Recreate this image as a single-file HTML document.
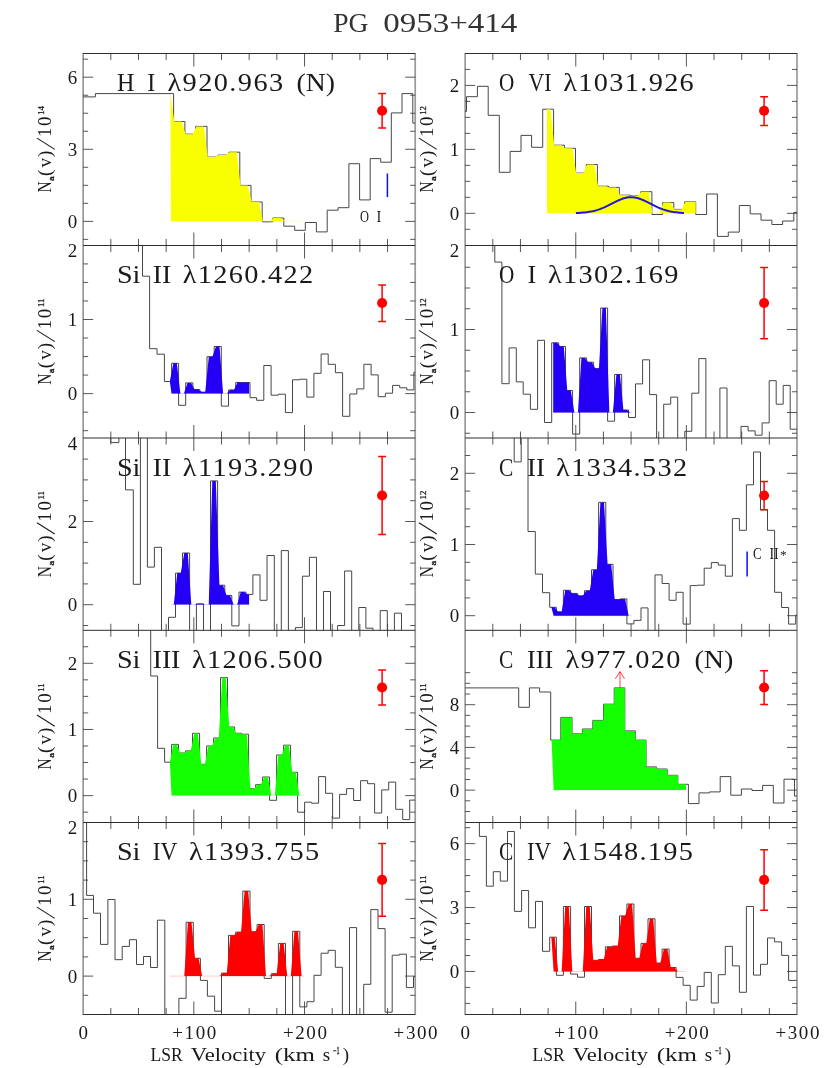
<!DOCTYPE html>
<html><head><meta charset="utf-8"><title>PG 0953+414</title>
<style>html,body{margin:0;padding:0;background:#fff}svg{display:block;will-change:transform}</style>
</head><body>
<svg width="830" height="1068" viewBox="0 0 830 1068">
<rect width="830" height="1068" fill="#fff"/>
<defs>
<clipPath id="c0"><rect x="83.15" y="53.5" width="332.05" height="192"/></clipPath>
<clipPath id="c1"><rect x="465.15" y="53.5" width="331.85" height="192"/></clipPath>
<clipPath id="c2"><rect x="83.15" y="245.5" width="332.05" height="192.5"/></clipPath>
<clipPath id="c3"><rect x="465.15" y="245.5" width="331.85" height="192.5"/></clipPath>
<clipPath id="c4"><rect x="83.15" y="438" width="332.05" height="192.3"/></clipPath>
<clipPath id="c5"><rect x="465.15" y="438" width="331.85" height="192.3"/></clipPath>
<clipPath id="c6"><rect x="83.15" y="630.3" width="332.05" height="192.2"/></clipPath>
<clipPath id="c7"><rect x="465.15" y="630.3" width="331.85" height="192.2"/></clipPath>
<clipPath id="c8"><rect x="83.15" y="822.5" width="332.05" height="192"/></clipPath>
<clipPath id="c9"><rect x="465.15" y="822.5" width="331.85" height="192"/></clipPath>
</defs>
<text x="333.2" y="32.4" font-family="Liberation Serif, serif" font-size="28" fill="#333" textLength="35.2" lengthAdjust="spacingAndGlyphs">PG</text>
<text transform="translate(383.3 32.4) scale(1.18 1)" font-family="Liberation Serif, serif" font-size="28" fill="#333" textLength="113.56" lengthAdjust="spacing">0953+414</text>
<line x1="83.15" y1="53" x2="83.15" y2="1015" stroke="#999999" stroke-width="1.7"/>
<line x1="415.2" y1="53" x2="415.2" y2="1015" stroke="#999999" stroke-width="1.7"/>
<line x1="465.15" y1="53" x2="465.15" y2="1015" stroke="#999999" stroke-width="1.7"/>
<line x1="797" y1="53" x2="797" y2="1015" stroke="#999999" stroke-width="1.7"/>
<g clip-path="url(#c0)">
<path d="M82.9 96.9H95.4V93.6H173.6V121.5H184.9V134.2H195.7V126.4H207V157.1H217.8V155.1H228.9V152.2H239.8V185.4H251V202H262.2V221.8H272.8V218H283.8V226.2H294.7V230.3H305.3V222.5H316.4V231.9H327.2V210.2H338.1V207.7H348.9V163.7H359.6V199.9H370.2V158.6H380.7V162.2H391.3V112.9H402V93.6H412.8V123.1H415.4" fill="none" stroke="#474747" stroke-width="1"/>
<line x1="170.9" y1="221.3" x2="304.5" y2="221.3" stroke="#faff00" stroke-width="0.8" opacity="0.25"/>
<polygon points="170.9,221.3 170.47,93.6 174.28,121.5 178.01,121.5 181.74,121.5 185.55,134.2 189.11,134.2 192.68,134.2 196.38,126.4 200.11,126.4 203.84,126.4 207.65,157.1 211.21,157.1 214.78,157.1 218.47,155.1 222.13,155.1 225.79,155.1 229.55,152.2 233.15,152.2 236.75,152.2 240.47,185.4 244.17,185.4 247.86,185.4 251.67,202 255.37,202 259.06,202 262.84,221.3 266.33,221.3 269.83,221.3 273.46,218 277.09,218 280.72,218 284.45,221.3 288.05,221.3 291.65,221.3 295.34,221.3 298.83,221.3 302.33,221.3 304.5,221.3 304.5,221.3" fill="#faff00"/>
</g>
<path d="M110.82 53.5v6.5M110.82 245.5v-6.5M138.49 53.5v6.5M138.49 245.5v-6.5M166.16 53.5v6.5M166.16 245.5v-6.5M193.83 53.5v13M193.83 245.5v-13M221.5 53.5v6.5M221.5 245.5v-6.5M249.17 53.5v6.5M249.17 245.5v-6.5M276.85 53.5v6.5M276.85 245.5v-6.5M304.52 53.5v13M304.52 245.5v-13M332.19 53.5v6.5M332.19 245.5v-6.5M359.86 53.5v6.5M359.86 245.5v-6.5M387.53 53.5v6.5M387.53 245.5v-6.5M83.15 59.18h5M415.2 59.18h-5M83.15 77.2h10M415.2 77.2h-10M83.15 95.22h5M415.2 95.22h-5M83.15 113.24h5M415.2 113.24h-5M83.15 131.26h5M415.2 131.26h-5M83.15 149.28h10M415.2 149.28h-10M83.15 167.3h5M415.2 167.3h-5M83.15 185.32h5M415.2 185.32h-5M83.15 203.34h5M415.2 203.34h-5M83.15 221.36h10M415.2 221.36h-10M83.15 239.38h5M415.2 239.38h-5" fill="none" stroke="#3a3a3a" stroke-width="0.85"/>
<text x="77.15" y="83.65" font-family="Liberation Serif, serif" font-size="19" fill="#1a1a1a" text-anchor="end">6</text>
<text x="77.15" y="155.75" font-family="Liberation Serif, serif" font-size="19" fill="#1a1a1a" text-anchor="end">3</text>
<text x="77.15" y="227.75" font-family="Liberation Serif, serif" font-size="19" fill="#1a1a1a" text-anchor="end">0</text>
<g transform="translate(51.25 192.4) rotate(-90)" font-family="Liberation Serif, serif" fill="#1a1a1a">
<text font-size="19"><tspan x="-0.2" y="0" textLength="11.2" lengthAdjust="spacingAndGlyphs">N</tspan><tspan x="11.5" y="2.9" font-size="7.5" textLength="4.7" lengthAdjust="spacingAndGlyphs" stroke="#1a1a1a" stroke-width="0.35">a</tspan><tspan x="16.4" y="0">(</tspan><tspan x="24.9" y="0">v</tspan><tspan x="35.4" y="0">)</tspan><tspan x="55.3" y="0">1</tspan><tspan x="66.5" y="0">0</tspan><tspan x="77.6" y="-7.3" font-size="8.8" stroke="#1a1a1a" stroke-width="0.3">14</tspan></text>
<line x1="43" y1="3.5" x2="54.3" y2="-14.3" stroke="#1a1a1a" stroke-width="1.1"/>
</g>
<text x="116.9" y="91.1" font-family="Liberation Serif, serif" font-size="25.3" fill="#1a1a1a" textLength="17.4" lengthAdjust="spacingAndGlyphs">H</text>
<text x="147.2" y="91.1" font-family="Liberation Serif, serif" font-size="25.3" fill="#1a1a1a" textLength="8" lengthAdjust="spacingAndGlyphs">I</text>
<text transform="translate(167.4 91.1) scale(1.12 1)" font-family="Liberation Serif, serif" font-size="25.3" fill="#1a1a1a" textLength="103.39" lengthAdjust="spacing">λ920.963</text>
<text x="296.5" y="91.1" font-family="Liberation Serif, serif" font-size="25.3" fill="#1a1a1a" textLength="38.5" lengthAdjust="spacingAndGlyphs">(N)</text>
<path d="M382.1 93.6V128M378.2 93.6h7.8M378.2 128h7.8" stroke="#ff0000" stroke-width="1.5" fill="none"/>
<circle cx="382.1" cy="110.8" r="5.05" fill="#ff0000"/>
<g clip-path="url(#c1)">
<path d="M464.9 111.5H466.5V96.7H477.4V86.3H488.2V115.3H499.3V172.3H510.1V151.4H521V135.4H531.6V147.3H542.7V109.2H553.6V145.2H564.4V148.3H575.5V173.1H586.3V164.5H597.4V186.2H608.5V187.4H619.3V195.2H630.4V196H640.8V191.7H651.9V214.5H662.7V202.6H673.8V209.4H684.6V201.8H695.7V214.5H706.6V194H717.4V236.4H728.3V232.1H739.3V205.5H750.2V213.9H761V220.2H771.9V224.5H782.6V221H793.8V212.4H797.6" fill="none" stroke="#474747" stroke-width="1"/>
<line x1="547" y1="213.3" x2="695.7" y2="213.3" stroke="#faff00" stroke-width="0.8" opacity="0.25"/>
<polygon points="547,213.3 547,109.2 550.55,109.2 554.25,145.2 557.81,145.2 561.38,145.2 565.07,148.3 568.73,148.3 572.39,148.3 576.15,173.1 579.71,173.1 583.28,173.1 586.97,164.5 590.63,164.5 594.29,164.5 598.07,186.2 601.73,186.2 605.39,186.2 609.15,187.4 612.71,187.4 616.28,187.4 619.97,195.2 623.63,195.2 627.29,195.2 631.02,196 634.46,196 637.89,196 641.47,191.7 645.13,191.7 648.79,191.7 652.55,213.3 656.11,213.3 659.68,213.3 663.37,202.6 667.03,202.6 670.69,202.6 674.45,209.4 678.01,209.4 681.58,209.4 685.27,201.8 688.93,201.8 692.59,201.8 695.7,201.8 695.7,213.3" fill="#faff00"/>
</g>
<path d="M492.8 53.5v6.5M492.8 245.5v-6.5M520.46 53.5v6.5M520.46 245.5v-6.5M548.11 53.5v6.5M548.11 245.5v-6.5M575.77 53.5v13M575.77 245.5v-13M603.42 53.5v6.5M603.42 245.5v-6.5M631.08 53.5v6.5M631.08 245.5v-6.5M658.73 53.5v6.5M658.73 245.5v-6.5M686.38 53.5v13M686.38 245.5v-13M714.04 53.5v6.5M714.04 245.5v-6.5M741.69 53.5v6.5M741.69 245.5v-6.5M769.35 53.5v6.5M769.35 245.5v-6.5M465.15 69.41h5M797 69.41h-5M465.15 85.4h10M797 85.4h-10M465.15 101.39h5M797 101.39h-5M465.15 117.38h5M797 117.38h-5M465.15 133.37h5M797 133.37h-5M465.15 149.36h10M797 149.36h-10M465.15 165.35h5M797 165.35h-5M465.15 181.34h5M797 181.34h-5M465.15 197.33h5M797 197.33h-5M465.15 213.32h10M797 213.32h-10M465.15 229.31h5M797 229.31h-5" fill="none" stroke="#3a3a3a" stroke-width="0.85"/>
<text x="459.15" y="91.85" font-family="Liberation Serif, serif" font-size="19" fill="#1a1a1a" text-anchor="end">2</text>
<text x="459.15" y="155.8" font-family="Liberation Serif, serif" font-size="19" fill="#1a1a1a" text-anchor="end">1</text>
<text x="459.15" y="219.75" font-family="Liberation Serif, serif" font-size="19" fill="#1a1a1a" text-anchor="end">0</text>
<g transform="translate(433.25 192.4) rotate(-90)" font-family="Liberation Serif, serif" fill="#1a1a1a">
<text font-size="19"><tspan x="-0.2" y="0" textLength="11.2" lengthAdjust="spacingAndGlyphs">N</tspan><tspan x="11.5" y="2.9" font-size="7.5" textLength="4.7" lengthAdjust="spacingAndGlyphs" stroke="#1a1a1a" stroke-width="0.35">a</tspan><tspan x="16.4" y="0">(</tspan><tspan x="24.9" y="0">v</tspan><tspan x="35.4" y="0">)</tspan><tspan x="55.3" y="0">1</tspan><tspan x="66.5" y="0">0</tspan><tspan x="77.6" y="-7.3" font-size="8.8" stroke="#1a1a1a" stroke-width="0.3">12</tspan></text>
<line x1="43" y1="3.5" x2="54.3" y2="-14.3" stroke="#1a1a1a" stroke-width="1.1"/>
</g>
<text x="498.9" y="91.1" font-family="Liberation Serif, serif" font-size="25.3" fill="#1a1a1a" textLength="15.3" lengthAdjust="spacingAndGlyphs">O</text>
<text x="528.6" y="91.1" font-family="Liberation Serif, serif" font-size="25.3" fill="#1a1a1a" textLength="22.9" lengthAdjust="spacingAndGlyphs">VI</text>
<text transform="translate(563.3 91.1) scale(1.12 1)" font-family="Liberation Serif, serif" font-size="25.3" fill="#1a1a1a" textLength="116.52" lengthAdjust="spacing">λ1031.926</text>
<path d="M764.1 96.7V125.6M760.2 96.7h7.8M760.2 125.6h7.8" stroke="#ff0000" stroke-width="1.5" fill="none"/>
<circle cx="764.1" cy="110.8" r="5.05" fill="#ff0000"/>
<g clip-path="url(#c2)">
<path d="M82.9 215.5H142.5V276.2H149.6V348.7H157V354.2H164.4V381.5H171.6V363.3H178.6V405.3H185.7V382.9H192.9V389.5H199.9V392.1H207V356.7H214.2V346.5H221.3V406.1H228.5V389.9H235.7V382.5H242.8V382.5H250V397.7H256.6V400.3H263.8V365.5H271.1V395.2H278.3V394.2H285.4V412.6H292.5V379.8H299.6V379.2H306.8V397.1H313.9V373.3H321.1V354H328.2V364.3H335.4V372.7H342.6V416.3H349.8V394H356.8V388.9H363.9V364.3H371.1V374.9H378.2V396.7H385.4V393.2H392.6V385.4H399.7V387.8H406.8V389.9H413.9V372.3H415.4" fill="none" stroke="#474747" stroke-width="1"/>
<line x1="171.5" y1="393.6" x2="249.1" y2="393.6" stroke="#2300f5" stroke-width="0.8" opacity="0.25"/>
<polygon points="171.5,393.6 169.8,381.5 173.35,363.3 176.85,363.3 180.38,393.6 183.92,393.6 187.5,382.9 191.1,382.9 194.65,389.5 198.15,389.5 201.68,392.1 205.22,392.1 208.8,356.7 212.4,356.7 215.97,346.5 219.53,346.5 223.1,393.6 226.7,393.6 230.3,389.9 233.9,389.9 237.47,382.5 241.03,382.5 244.6,382.5 248.2,382.5 249.1,382.5 249.1,393.6" fill="#2300f5"/>
</g>
<path d="M110.82 245.5v6.5M110.82 438v-6.5M138.49 245.5v6.5M138.49 438v-6.5M166.16 245.5v6.5M166.16 438v-6.5M193.83 245.5v13M193.83 438v-13M221.5 245.5v6.5M221.5 438v-6.5M249.17 245.5v6.5M249.17 438v-6.5M276.85 245.5v6.5M276.85 438v-6.5M304.52 245.5v13M304.52 438v-13M332.19 245.5v6.5M332.19 438v-6.5M359.86 245.5v6.5M359.86 438v-6.5M387.53 245.5v6.5M387.53 438v-6.5M83.15 263.91h5M415.2 263.91h-5M83.15 282.44h5M415.2 282.44h-5M83.15 300.97h5M415.2 300.97h-5M83.15 319.5h10M415.2 319.5h-10M83.15 338.03h5M415.2 338.03h-5M83.15 356.56h5M415.2 356.56h-5M83.15 375.09h5M415.2 375.09h-5M83.15 393.62h10M415.2 393.62h-10M83.15 412.15h5M415.2 412.15h-5M83.15 430.68h5M415.2 430.68h-5" fill="none" stroke="#3a3a3a" stroke-width="0.85"/>
<text x="77.15" y="325.95" font-family="Liberation Serif, serif" font-size="19" fill="#1a1a1a" text-anchor="end">1</text>
<text x="77.15" y="400.05" font-family="Liberation Serif, serif" font-size="19" fill="#1a1a1a" text-anchor="end">0</text>
<text x="77.15" y="257.1" font-family="Liberation Serif, serif" font-size="19" fill="#1a1a1a" text-anchor="end">2</text>
<g transform="translate(51.25 384.65) rotate(-90)" font-family="Liberation Serif, serif" fill="#1a1a1a">
<text font-size="19"><tspan x="-0.2" y="0" textLength="11.2" lengthAdjust="spacingAndGlyphs">N</tspan><tspan x="11.5" y="2.9" font-size="7.5" textLength="4.7" lengthAdjust="spacingAndGlyphs" stroke="#1a1a1a" stroke-width="0.35">a</tspan><tspan x="16.4" y="0">(</tspan><tspan x="24.9" y="0">v</tspan><tspan x="35.4" y="0">)</tspan><tspan x="55.3" y="0">1</tspan><tspan x="66.5" y="0">0</tspan><tspan x="77.6" y="-7.3" font-size="8.8" stroke="#1a1a1a" stroke-width="0.3">11</tspan></text>
<line x1="43" y1="3.5" x2="54.3" y2="-14.3" stroke="#1a1a1a" stroke-width="1.1"/>
</g>
<text x="116.9" y="283.3" font-family="Liberation Serif, serif" font-size="25.3" fill="#1a1a1a" textLength="23.5" lengthAdjust="spacingAndGlyphs">Si</text>
<text x="152.7" y="283.3" font-family="Liberation Serif, serif" font-size="25.3" fill="#1a1a1a" textLength="18.4" lengthAdjust="spacingAndGlyphs">II</text>
<text transform="translate(182.8 283.3) scale(1.12 1)" font-family="Liberation Serif, serif" font-size="25.3" fill="#1a1a1a" textLength="116.34" lengthAdjust="spacing">λ1260.422</text>
<path d="M382.1 285V321.5M378.2 285h7.8M378.2 321.5h7.8" stroke="#ff0000" stroke-width="1.5" fill="none"/>
<circle cx="382.1" cy="303" r="5.05" fill="#ff0000"/>
<g clip-path="url(#c3)">
<path d="M464.9 215.5H494.8V262.1H501.9V383.7H509.1V347.9H516.3V381.9H523.2V394.2H530.4V409.3H537.6V340.3H544.5V422.5H551.7V342.8H558.7V346.5H565.5V390.5H572.6V434.1H579.7V357.9H586.6V362.2H593.6V368.6H600.7V308H607.6V421.2H614.6V374.5H621.7V410H628.5V417.5H635.5V383.9H642.6V359.8H649.6V394.6H656.6V468H663.7V404.2H670.7V397.1H677.7V468H684.8V431.3H691.8V393.2H698.8V358.6H705.9V468H719.9V388H727V468H741V426.4H748.1V430.9H755.1V435.2H762.1V422.9H769.2V380.7H776.2V404.2H783.2V385.4H790.2V429.2H797.3V433.5H797.6" fill="none" stroke="#474747" stroke-width="1"/>
<line x1="553.2" y1="412.4" x2="631" y2="412.4" stroke="#2300f5" stroke-width="0.8" opacity="0.25"/>
<polygon points="553.2,412.4 553.2,342.8 553.45,342.8 556.95,342.8 560.4,346.5 563.8,346.5 567.27,390.5 570.83,390.5 574.38,412.4 577.93,412.4 581.43,357.9 584.88,357.9 588.35,362.2 591.85,362.2 595.38,368.6 598.93,368.6 602.43,308 605.88,308 609.35,412.4 612.85,412.4 616.38,374.5 619.93,374.5 623.4,410 626.8,410 630.25,412.4 631,412.4 631,412.4" fill="#2300f5"/>
</g>
<path d="M492.8 245.5v6.5M492.8 438v-6.5M520.46 245.5v6.5M520.46 438v-6.5M548.11 245.5v6.5M548.11 438v-6.5M575.77 245.5v13M575.77 438v-13M603.42 245.5v6.5M603.42 438v-6.5M631.08 245.5v6.5M631.08 438v-6.5M658.73 245.5v6.5M658.73 438v-6.5M686.38 245.5v13M686.38 438v-13M714.04 245.5v6.5M714.04 438v-6.5M741.69 245.5v6.5M741.69 438v-6.5M769.35 245.5v6.5M769.35 438v-6.5M465.15 267.25h5M797 267.25h-5M465.15 288h5M797 288h-5M465.15 308.75h5M797 308.75h-5M465.15 329.5h10M797 329.5h-10M465.15 350.25h5M797 350.25h-5M465.15 371h5M797 371h-5M465.15 391.75h5M797 391.75h-5M465.15 412.5h10M797 412.5h-10M465.15 433.25h5M797 433.25h-5" fill="none" stroke="#3a3a3a" stroke-width="0.85"/>
<text x="459.15" y="335.95" font-family="Liberation Serif, serif" font-size="19" fill="#1a1a1a" text-anchor="end">1</text>
<text x="459.15" y="418.85" font-family="Liberation Serif, serif" font-size="19" fill="#1a1a1a" text-anchor="end">0</text>
<text x="459.15" y="257.1" font-family="Liberation Serif, serif" font-size="19" fill="#1a1a1a" text-anchor="end">2</text>
<g transform="translate(433.25 384.65) rotate(-90)" font-family="Liberation Serif, serif" fill="#1a1a1a">
<text font-size="19"><tspan x="-0.2" y="0" textLength="11.2" lengthAdjust="spacingAndGlyphs">N</tspan><tspan x="11.5" y="2.9" font-size="7.5" textLength="4.7" lengthAdjust="spacingAndGlyphs" stroke="#1a1a1a" stroke-width="0.35">a</tspan><tspan x="16.4" y="0">(</tspan><tspan x="24.9" y="0">v</tspan><tspan x="35.4" y="0">)</tspan><tspan x="55.3" y="0">1</tspan><tspan x="66.5" y="0">0</tspan><tspan x="77.6" y="-7.3" font-size="8.8" stroke="#1a1a1a" stroke-width="0.3">12</tspan></text>
<line x1="43" y1="3.5" x2="54.3" y2="-14.3" stroke="#1a1a1a" stroke-width="1.1"/>
</g>
<text x="498.9" y="283.3" font-family="Liberation Serif, serif" font-size="25.3" fill="#1a1a1a" textLength="15.3" lengthAdjust="spacingAndGlyphs">O</text>
<text x="527.6" y="283.3" font-family="Liberation Serif, serif" font-size="25.3" fill="#1a1a1a" textLength="8.7" lengthAdjust="spacingAndGlyphs">I</text>
<text transform="translate(548 283.3) scale(1.12 1)" font-family="Liberation Serif, serif" font-size="25.3" fill="#1a1a1a" textLength="116.52" lengthAdjust="spacing">λ1302.169</text>
<path d="M764.1 267.6V338.7M760.2 267.6h7.8M760.2 338.7h7.8" stroke="#ff0000" stroke-width="1.5" fill="none"/>
<circle cx="764.1" cy="303" r="5.05" fill="#ff0000"/>
<g clip-path="url(#c4)">
<path d="M82.9 408H110.7V442.6H118.9V408H125.5V489.9H133.3V584.3H140.4V408H147.4V567.1H154.4V547.3H161.5V660.3H168.5V617.3H175.5V573.1H182.5V553H189.6V660.3H196.4V603.8H203.5V660.3H210.5V480.9H217.6V585.2H224.8V595.4H231.8V625.9H239V592.1H245.9V594.4H252.9V574.9H260V600.3H267V555.5H274.3V660.3H281.3V550.6H288.4V660.3H295.4V627.6H302.4V576.2H309.4V557.3H316.5V660.3H323.5V591.5H330.5V660.3H337.6V625.5H344.6V571H351.7V660.3H358.8V607.5H365.9V628.2H373V660.3H380.2V610.6H387.3V660.3H394.4V613.2H401.5V660.3H415.4" fill="none" stroke="#474747" stroke-width="1"/>
<line x1="171.5" y1="604.6" x2="249.1" y2="604.6" stroke="#2300f5" stroke-width="0.8" opacity="0.25"/>
<polygon points="171.5,604.6 170.25,604.6 173.75,604.6 177.25,573.1 180.75,573.1 184.28,553 187.82,553 191.3,604.6 194.7,604.6 198.18,603.8 201.72,603.8 205.25,604.6 208.75,604.6 212.28,480.9 215.82,480.9 219.4,585.2 223,585.2 226.55,595.4 230.05,595.4 233.6,604.6 237.2,604.6 240.72,592.1 244.18,592.1 247.65,594.4 249.1,594.4 249.1,604.6" fill="#2300f5"/>
</g>
<path d="M110.82 438v6.5M110.82 630.3v-6.5M138.49 438v6.5M138.49 630.3v-6.5M166.16 438v6.5M166.16 630.3v-6.5M193.83 438v13M193.83 630.3v-13M221.5 438v6.5M221.5 630.3v-6.5M249.17 438v6.5M249.17 630.3v-6.5M276.85 438v6.5M276.85 630.3v-6.5M304.52 438v13M304.52 630.3v-13M332.19 438v6.5M332.19 630.3v-6.5M359.86 438v6.5M359.86 630.3v-6.5M387.53 438v6.5M387.53 630.3v-6.5M83.15 459.1h5M415.2 459.1h-5M83.15 479.9h5M415.2 479.9h-5M83.15 500.7h5M415.2 500.7h-5M83.15 521.5h10M415.2 521.5h-10M83.15 542.3h5M415.2 542.3h-5M83.15 563.1h5M415.2 563.1h-5M83.15 583.9h5M415.2 583.9h-5M83.15 604.7h10M415.2 604.7h-10M83.15 625.5h5M415.2 625.5h-5" fill="none" stroke="#3a3a3a" stroke-width="0.85"/>
<text x="77.15" y="527.95" font-family="Liberation Serif, serif" font-size="19" fill="#1a1a1a" text-anchor="end">2</text>
<text x="77.15" y="611.05" font-family="Liberation Serif, serif" font-size="19" fill="#1a1a1a" text-anchor="end">0</text>
<text x="77.15" y="449.6" font-family="Liberation Serif, serif" font-size="19" fill="#1a1a1a" text-anchor="end">4</text>
<g transform="translate(51.25 577.05) rotate(-90)" font-family="Liberation Serif, serif" fill="#1a1a1a">
<text font-size="19"><tspan x="-0.2" y="0" textLength="11.2" lengthAdjust="spacingAndGlyphs">N</tspan><tspan x="11.5" y="2.9" font-size="7.5" textLength="4.7" lengthAdjust="spacingAndGlyphs" stroke="#1a1a1a" stroke-width="0.35">a</tspan><tspan x="16.4" y="0">(</tspan><tspan x="24.9" y="0">v</tspan><tspan x="35.4" y="0">)</tspan><tspan x="55.3" y="0">1</tspan><tspan x="66.5" y="0">0</tspan><tspan x="77.6" y="-7.3" font-size="8.8" stroke="#1a1a1a" stroke-width="0.3">11</tspan></text>
<line x1="43" y1="3.5" x2="54.3" y2="-14.3" stroke="#1a1a1a" stroke-width="1.1"/>
</g>
<text x="116.9" y="475.5" font-family="Liberation Serif, serif" font-size="25.3" fill="#1a1a1a" textLength="23.5" lengthAdjust="spacingAndGlyphs">Si</text>
<text x="152.7" y="475.5" font-family="Liberation Serif, serif" font-size="25.3" fill="#1a1a1a" textLength="18.4" lengthAdjust="spacingAndGlyphs">II</text>
<text transform="translate(182.8 475.5) scale(1.12 1)" font-family="Liberation Serif, serif" font-size="25.3" fill="#1a1a1a" textLength="116.34" lengthAdjust="spacing">λ1193.290</text>
<path d="M382.1 456.5V534.4M378.2 456.5h7.8M378.2 534.4h7.8" stroke="#ff0000" stroke-width="1.5" fill="none"/>
<circle cx="382.1" cy="495.5" r="5.05" fill="#ff0000"/>
<g clip-path="url(#c5)">
<path d="M464.9 408H514.2V461.9H521.2V408H528V531.5H535.3V574.1H542.5V592.7H549.7V607.3H556.4V611.8H563.4V590.3H570.6V593.4H577.7V595.8H584.5V590.7H591.5V569.8H598.6V502.4H605.8V564.3H613V599.5H619.9V598.9H626.9V623.9H633.9V620.4H641V607.9H648V660.3H655V574.9H662.1V583.5H669.1V600.3H676.1V592.3H683.1V624.1H690.2V585.6H697.2V585.2H704.2V568.2H711.3V562.6H718.3V565.1H725.3V576.2H732.4V518.6H739.4V530.3H746.4V484.8H753.5V452H760.5V509.8H767.5V530.3H774.6V592.3H781.6V607.5H788.6V624.1H795.7V615.3H797.6" fill="none" stroke="#474747" stroke-width="1"/>
<line x1="553.6" y1="615.7" x2="631.3" y2="615.7" stroke="#2300f5" stroke-width="0.8" opacity="0.25"/>
<polygon points="553.6,615.7 551.38,607.3 554.73,607.3 558.15,611.8 561.65,611.8 565.2,590.3 568.8,590.3 572.38,593.4 575.93,593.4 579.4,595.8 582.8,595.8 586.25,590.7 589.75,590.7 593.27,569.8 596.83,569.8 600.4,502.4 604,502.4 607.6,564.3 611.2,564.3 614.73,599.5 618.17,599.5 621.65,598.9 625.15,598.9 628.65,615.7 631.3,615.7 631.3,615.7" fill="#2300f5"/>
</g>
<path d="M492.8 438v6.5M492.8 630.3v-6.5M520.46 438v6.5M520.46 630.3v-6.5M548.11 438v6.5M548.11 630.3v-6.5M575.77 438v13M575.77 630.3v-13M603.42 438v6.5M603.42 630.3v-6.5M631.08 438v6.5M631.08 630.3v-6.5M658.73 438v6.5M658.73 630.3v-6.5M686.38 438v13M686.38 630.3v-13M714.04 438v6.5M714.04 630.3v-6.5M741.69 438v6.5M741.69 630.3v-6.5M769.35 438v6.5M769.35 630.3v-6.5M465.15 455.5h5M797 455.5h-5M465.15 473.3h10M797 473.3h-10M465.15 491.1h5M797 491.1h-5M465.15 508.9h5M797 508.9h-5M465.15 526.7h5M797 526.7h-5M465.15 544.5h10M797 544.5h-10M465.15 562.3h5M797 562.3h-5M465.15 580.1h5M797 580.1h-5M465.15 597.9h5M797 597.9h-5M465.15 615.7h10M797 615.7h-10" fill="none" stroke="#3a3a3a" stroke-width="0.85"/>
<text x="459.15" y="479.75" font-family="Liberation Serif, serif" font-size="19" fill="#1a1a1a" text-anchor="end">2</text>
<text x="459.15" y="551.05" font-family="Liberation Serif, serif" font-size="19" fill="#1a1a1a" text-anchor="end">1</text>
<text x="459.15" y="622.15" font-family="Liberation Serif, serif" font-size="19" fill="#1a1a1a" text-anchor="end">0</text>
<g transform="translate(433.25 577.05) rotate(-90)" font-family="Liberation Serif, serif" fill="#1a1a1a">
<text font-size="19"><tspan x="-0.2" y="0" textLength="11.2" lengthAdjust="spacingAndGlyphs">N</tspan><tspan x="11.5" y="2.9" font-size="7.5" textLength="4.7" lengthAdjust="spacingAndGlyphs" stroke="#1a1a1a" stroke-width="0.35">a</tspan><tspan x="16.4" y="0">(</tspan><tspan x="24.9" y="0">v</tspan><tspan x="35.4" y="0">)</tspan><tspan x="55.3" y="0">1</tspan><tspan x="66.5" y="0">0</tspan><tspan x="77.6" y="-7.3" font-size="8.8" stroke="#1a1a1a" stroke-width="0.3">12</tspan></text>
<line x1="43" y1="3.5" x2="54.3" y2="-14.3" stroke="#1a1a1a" stroke-width="1.1"/>
</g>
<text x="498.9" y="475.5" font-family="Liberation Serif, serif" font-size="25.3" fill="#1a1a1a" textLength="14.3" lengthAdjust="spacingAndGlyphs">C</text>
<text x="527" y="475.5" font-family="Liberation Serif, serif" font-size="25.3" fill="#1a1a1a" textLength="17.9" lengthAdjust="spacingAndGlyphs">II</text>
<text transform="translate(556.1 475.5) scale(1.12 1)" font-family="Liberation Serif, serif" font-size="25.3" fill="#1a1a1a" textLength="117.14" lengthAdjust="spacing">λ1334.532</text>
<path d="M764.1 481.5V509.8M760.2 481.5h7.8M760.2 509.8h7.8" stroke="#ff0000" stroke-width="1.5" fill="none"/>
<circle cx="764.1" cy="495.5" r="5.05" fill="#ff0000"/>
<g clip-path="url(#c6)">
<path d="M82.9 600.3H150.7V676H157.6V748.3H164.6V762.2H171.6V744.4H178.5V753H185.5V750.9H192.5V733.3H199.6V764.3H206.6V746H213.6V738H220.5V677.6H227.5V727H234.7V733.3H241.6V734.2H248.6V788.8H255.6V784.7H262.6V777H269.6V800.3H276.6V755H283.6V745.2H290.6V772.3H297.6V812.2H304.6V802.2H311.6V803.2H318.6V776.6H325.6V793.3H332.6V818.1H339.6V794.4H346.6V788.6H353.6V800.5H360.6V780.7H367.6V783.7H374.6V813H381.7V789.9H388.7V782.1H395.7V809.3H402.7V819.6H409.7V800.1H415.4" fill="none" stroke="#474747" stroke-width="1"/>
<line x1="171.5" y1="795.6" x2="304.4" y2="795.6" stroke="#14ff00" stroke-width="0.8" opacity="0.25"/>
<polygon points="171.5,795.6 169.85,762.2 173.32,744.4 176.78,744.4 180.25,753 183.75,753 187.25,750.9 190.75,750.9 194.28,733.3 197.82,733.3 201.35,764.3 204.85,764.3 208.35,746 211.85,746 215.32,738 218.78,738 222.25,677.6 225.75,677.6 229.3,727 232.9,727 236.42,733.3 239.88,733.3 243.35,734.2 246.85,734.2 250.35,788.8 253.85,788.8 257.35,784.7 260.85,784.7 264.35,777 267.85,777 271.35,795.6 274.85,795.6 278.35,755 281.85,755 285.35,745.2 288.85,745.2 292.35,772.3 295.85,772.3 299.35,795.6 302.85,795.6 304.4,795.6 304.4,795.6" fill="#14ff00"/>
</g>
<path d="M110.82 630.3v6.5M110.82 822.5v-6.5M138.49 630.3v6.5M138.49 822.5v-6.5M166.16 630.3v6.5M166.16 822.5v-6.5M193.83 630.3v13M193.83 822.5v-13M221.5 630.3v6.5M221.5 822.5v-6.5M249.17 630.3v6.5M249.17 822.5v-6.5M276.85 630.3v6.5M276.85 822.5v-6.5M304.52 630.3v13M304.52 822.5v-13M332.19 630.3v6.5M332.19 822.5v-6.5M359.86 630.3v6.5M359.86 822.5v-6.5M387.53 630.3v6.5M387.53 822.5v-6.5M83.15 646.76h5M415.2 646.76h-5M83.15 663.3h10M415.2 663.3h-10M83.15 679.84h5M415.2 679.84h-5M83.15 696.38h5M415.2 696.38h-5M83.15 712.92h5M415.2 712.92h-5M83.15 729.46h10M415.2 729.46h-10M83.15 746h5M415.2 746h-5M83.15 762.54h5M415.2 762.54h-5M83.15 779.08h5M415.2 779.08h-5M83.15 795.62h10M415.2 795.62h-10M83.15 812.16h5M415.2 812.16h-5" fill="none" stroke="#3a3a3a" stroke-width="0.85"/>
<text x="77.15" y="669.75" font-family="Liberation Serif, serif" font-size="19" fill="#1a1a1a" text-anchor="end">2</text>
<text x="77.15" y="735.9" font-family="Liberation Serif, serif" font-size="19" fill="#1a1a1a" text-anchor="end">1</text>
<text x="77.15" y="802.05" font-family="Liberation Serif, serif" font-size="19" fill="#1a1a1a" text-anchor="end">0</text>
<g transform="translate(51.25 769.3) rotate(-90)" font-family="Liberation Serif, serif" fill="#1a1a1a">
<text font-size="19"><tspan x="-0.2" y="0" textLength="11.2" lengthAdjust="spacingAndGlyphs">N</tspan><tspan x="11.5" y="2.9" font-size="7.5" textLength="4.7" lengthAdjust="spacingAndGlyphs" stroke="#1a1a1a" stroke-width="0.35">a</tspan><tspan x="16.4" y="0">(</tspan><tspan x="24.9" y="0">v</tspan><tspan x="35.4" y="0">)</tspan><tspan x="55.3" y="0">1</tspan><tspan x="66.5" y="0">0</tspan><tspan x="77.6" y="-7.3" font-size="8.8" stroke="#1a1a1a" stroke-width="0.3">11</tspan></text>
<line x1="43" y1="3.5" x2="54.3" y2="-14.3" stroke="#1a1a1a" stroke-width="1.1"/>
</g>
<text x="116.9" y="667.7" font-family="Liberation Serif, serif" font-size="25.3" fill="#1a1a1a" textLength="23.5" lengthAdjust="spacingAndGlyphs">Si</text>
<text x="152.7" y="667.7" font-family="Liberation Serif, serif" font-size="25.3" fill="#1a1a1a" textLength="27.6" lengthAdjust="spacingAndGlyphs">III</text>
<text transform="translate(192 667.7) scale(1.12 1)" font-family="Liberation Serif, serif" font-size="25.3" fill="#1a1a1a" textLength="116.7" lengthAdjust="spacing">λ1206.500</text>
<path d="M382.1 670V705.1M378.2 670h7.8M378.2 705.1h7.8" stroke="#ff0000" stroke-width="1.5" fill="none"/>
<circle cx="382.1" cy="687.5" r="5.05" fill="#ff0000"/>
<g clip-path="url(#c7)">
<path d="M464.9 687.9H518.7V707.3H529.4V687.9H539.6V692H550.7V740.1H560.8V717.4H572V733.9H582.4V729H592.8V720.4H603.5V704.2H614.2V687.9H624.8V730.9H635.4V740.1H646V766.9H656.6V769H667.2V775.3H677.8V784.3H688.4V803.6H699V792.9H709.6V791.9H720.2V776.6H730.8V795.2H741.4V789H752V790.5H762.6V785.4H773.3V803H784V779.2H794.5V796H797.6" fill="none" stroke="#474747" stroke-width="1"/>
<line x1="553.6" y1="790.1" x2="686" y2="790.1" stroke="#14ff00" stroke-width="0.8" opacity="0.25"/>
<polygon points="553.6,790.1 551.6,740.1 560.7,740.1 561.14,717.4 571.89,717.4 572.31,733.9 582.3,733.9 582.71,729 592.7,729 593.12,720.4 603.39,720.4 603.82,704.2 614.09,704.2 614.52,687.9 624.69,687.9 625.12,730.9 635.29,730.9 635.72,740.1 645.89,740.1 646.32,766.9 656.49,766.9 656.92,769 667.09,769 667.52,775.3 677.69,775.3 678.12,784.3 686,784.3 686,790.1" fill="#14ff00"/>
</g>
<path d="M492.8 630.3v6.5M492.8 822.5v-6.5M520.46 630.3v6.5M520.46 822.5v-6.5M548.11 630.3v6.5M548.11 822.5v-6.5M575.77 630.3v13M575.77 822.5v-13M603.42 630.3v6.5M603.42 822.5v-6.5M631.08 630.3v6.5M631.08 822.5v-6.5M658.73 630.3v6.5M658.73 822.5v-6.5M686.38 630.3v13M686.38 822.5v-13M714.04 630.3v6.5M714.04 822.5v-6.5M741.69 630.3v6.5M741.69 822.5v-6.5M769.35 630.3v6.5M769.35 822.5v-6.5M465.15 672.66h5M797 672.66h-5M465.15 683.34h5M797 683.34h-5M465.15 694.02h5M797 694.02h-5M465.15 704.7h10M797 704.7h-10M465.15 715.38h5M797 715.38h-5M465.15 726.06h5M797 726.06h-5M465.15 736.74h5M797 736.74h-5M465.15 747.42h10M797 747.42h-10M465.15 758.1h5M797 758.1h-5M465.15 768.78h5M797 768.78h-5M465.15 779.46h5M797 779.46h-5M465.15 790.14h10M797 790.14h-10M465.15 800.82h5M797 800.82h-5M465.15 811.5h5M797 811.5h-5" fill="none" stroke="#3a3a3a" stroke-width="0.85"/>
<text x="459.15" y="711.15" font-family="Liberation Serif, serif" font-size="19" fill="#1a1a1a" text-anchor="end">8</text>
<text x="459.15" y="753.85" font-family="Liberation Serif, serif" font-size="19" fill="#1a1a1a" text-anchor="end">4</text>
<text x="459.15" y="796.55" font-family="Liberation Serif, serif" font-size="19" fill="#1a1a1a" text-anchor="end">0</text>
<g transform="translate(433.25 769.3) rotate(-90)" font-family="Liberation Serif, serif" fill="#1a1a1a">
<text font-size="19"><tspan x="-0.2" y="0" textLength="11.2" lengthAdjust="spacingAndGlyphs">N</tspan><tspan x="11.5" y="2.9" font-size="7.5" textLength="4.7" lengthAdjust="spacingAndGlyphs" stroke="#1a1a1a" stroke-width="0.35">a</tspan><tspan x="16.4" y="0">(</tspan><tspan x="24.9" y="0">v</tspan><tspan x="35.4" y="0">)</tspan><tspan x="55.3" y="0">1</tspan><tspan x="66.5" y="0">0</tspan><tspan x="77.6" y="-7.3" font-size="8.8" stroke="#1a1a1a" stroke-width="0.3">11</tspan></text>
<line x1="43" y1="3.5" x2="54.3" y2="-14.3" stroke="#1a1a1a" stroke-width="1.1"/>
</g>
<text x="498.9" y="667.7" font-family="Liberation Serif, serif" font-size="25.3" fill="#1a1a1a" textLength="14.3" lengthAdjust="spacingAndGlyphs">C</text>
<text x="527" y="667.7" font-family="Liberation Serif, serif" font-size="25.3" fill="#1a1a1a" textLength="26.1" lengthAdjust="spacingAndGlyphs">III</text>
<text transform="translate(565.4 667.7) scale(1.12 1)" font-family="Liberation Serif, serif" font-size="25.3" fill="#1a1a1a" textLength="102.77" lengthAdjust="spacing">λ977.020</text>
<text x="694.5" y="667.7" font-family="Liberation Serif, serif" font-size="25.3" fill="#1a1a1a" textLength="38.9" lengthAdjust="spacingAndGlyphs">(N)</text>
<path d="M764.1 670.7V704.5M760.2 670.7h7.8M760.2 704.5h7.8" stroke="#ff0000" stroke-width="1.5" fill="none"/>
<circle cx="764.1" cy="687.5" r="5.05" fill="#ff0000"/>
<g clip-path="url(#c8)">
<path d="M82.9 792.5H86.6V895.4H93.5V913.2H100.5V944.4H107.9V899.5H115V959.7H122.2V946.4H129.4V939.7H136.5V964.5H143.5V956.5H150.5V967.5H157.4V920.2H164.8V1044.5H178.9V998.3H186.1V922.3H193.3V958.3H200.4V980.4H207.4V996.2H214.6V1011.2H221.5V973.1H228.5V935.4H235.7V932.1H242.8V891.1H250V931.7H257.1V924.5H264.2V978.4H271.3V973.7H278.4V943.4H285.5V1044.5H292.6V931.3H299.8V1006.9H306.9V1001.7H314V975.3H321.1V953.2H328.2V950.3H335.3V967.3H342.4V1044.5H349.5V927.6H356.6V1044.5H363.7V984.3H370.8V909.6H378V928.6H385.1V1012.2H392.2V955.2H399.3V954.2H406.4V987.6H413.5V976.7H415.4" fill="none" stroke="#474747" stroke-width="1"/>
<line x1="170.1" y1="976.1" x2="304.3" y2="976.1" stroke="#ff0000" stroke-width="0.8" opacity="0.25"/>
<polygon points="170.1,976.1 170.09,976.1 173.61,976.1 177.14,976.1 180.7,976.1 184.3,976.1 187.9,922.3 191.5,922.3 195.08,958.3 198.62,958.3 202.15,976.1 205.65,976.1 209.2,976.1 212.8,976.1 216.32,976.1 219.78,976.1 223.25,973.1 226.75,973.1 230.3,935.4 233.9,935.4 237.47,932.1 241.03,932.1 244.6,891.1 248.2,891.1 251.78,931.7 255.33,931.7 258.88,924.5 262.43,924.5 265.98,976.1 269.52,976.1 273.07,973.7 276.62,973.7 280.17,943.4 283.73,943.4 287.27,976.1 290.83,976.1 294.4,931.3 298,931.3 301.57,976.1 304.3,976.1 304.3,976.1" fill="#ff0000"/>
</g>
<path d="M110.82 822.5v6.5M110.82 1014.5v-6.5M138.49 822.5v6.5M138.49 1014.5v-6.5M166.16 822.5v6.5M166.16 1014.5v-6.5M193.83 822.5v13M193.83 1014.5v-13M221.5 822.5v6.5M221.5 1014.5v-6.5M249.17 822.5v6.5M249.17 1014.5v-6.5M276.85 822.5v6.5M276.85 1014.5v-6.5M304.52 822.5v13M304.52 1014.5v-13M332.19 822.5v6.5M332.19 1014.5v-6.5M359.86 822.5v6.5M359.86 1014.5v-6.5M387.53 822.5v6.5M387.53 1014.5v-6.5M83.15 841.7h5M415.2 841.7h-5M83.15 860.9h5M415.2 860.9h-5M83.15 880.1h5M415.2 880.1h-5M83.15 899.3h10M415.2 899.3h-10M83.15 918.5h5M415.2 918.5h-5M83.15 937.7h5M415.2 937.7h-5M83.15 956.9h5M415.2 956.9h-5M83.15 976.1h10M415.2 976.1h-10M83.15 995.3h5M415.2 995.3h-5" fill="none" stroke="#3a3a3a" stroke-width="0.85"/>
<text x="77.15" y="905.75" font-family="Liberation Serif, serif" font-size="19" fill="#1a1a1a" text-anchor="end">1</text>
<text x="77.15" y="982.55" font-family="Liberation Serif, serif" font-size="19" fill="#1a1a1a" text-anchor="end">0</text>
<text x="77.15" y="834.1" font-family="Liberation Serif, serif" font-size="19" fill="#1a1a1a" text-anchor="end">2</text>
<g transform="translate(51.25 961.4) rotate(-90)" font-family="Liberation Serif, serif" fill="#1a1a1a">
<text font-size="19"><tspan x="-0.2" y="0" textLength="11.2" lengthAdjust="spacingAndGlyphs">N</tspan><tspan x="11.5" y="2.9" font-size="7.5" textLength="4.7" lengthAdjust="spacingAndGlyphs" stroke="#1a1a1a" stroke-width="0.35">a</tspan><tspan x="16.4" y="0">(</tspan><tspan x="24.9" y="0">v</tspan><tspan x="35.4" y="0">)</tspan><tspan x="55.3" y="0">1</tspan><tspan x="66.5" y="0">0</tspan><tspan x="77.6" y="-7.3" font-size="8.8" stroke="#1a1a1a" stroke-width="0.3">11</tspan></text>
<line x1="43" y1="3.5" x2="54.3" y2="-14.3" stroke="#1a1a1a" stroke-width="1.1"/>
</g>
<text x="116.9" y="859.9" font-family="Liberation Serif, serif" font-size="25.3" fill="#1a1a1a" textLength="23.5" lengthAdjust="spacingAndGlyphs">Si</text>
<text x="152.7" y="859.9" font-family="Liberation Serif, serif" font-size="25.3" fill="#1a1a1a" textLength="24.6" lengthAdjust="spacingAndGlyphs">IV</text>
<text transform="translate(188.9 859.9) scale(1.12 1)" font-family="Liberation Serif, serif" font-size="25.3" fill="#1a1a1a" textLength="116.34" lengthAdjust="spacing">λ1393.755</text>
<path d="M382.1 843.6V916.3M378.2 843.6h7.8M378.2 916.3h7.8" stroke="#ff0000" stroke-width="1.5" fill="none"/>
<circle cx="382.1" cy="879.9" r="5.05" fill="#ff0000"/>
<g clip-path="url(#c9)">
<path d="M464.9 792.5H479.4V836.4H486.4V886.2H493.3V871.7H500.3V881.1H507.5V831.5H514.4V911.4H521.6V890.5H528.6V927.8H535.5V901.4H542.5V951.3H549.7V937.2H556.4V975.3H563.4V906.5H570.6V974.1H577.5V977.2H584.5V906.5H591.5V960.3H598.5V959.5H605.4V946.8H612.4V946H619.5V915.9H626.9V904H633.9V958.3H641V943.4H648V918.8H655V963H662.1V949.1H669.1V967.5H676.1V977.4H683.1V985.3H690.2V1000.1H697.2V986.4H704.2V972.4H711.3V1003H718.3V974.7H725.3V946.4H732.4V965.9H739.4V992.3H746.4V906.5H753.5V975.1H760.5V964.3H767.5V938H774.6V941.9H781.6V955.4H788.6V980.4H795.7V980.4H797.6" fill="none" stroke="#474747" stroke-width="1"/>
<line x1="553.6" y1="971.4" x2="686.3" y2="971.4" stroke="#ff0000" stroke-width="0.8" opacity="0.25"/>
<polygon points="553.6,971.4 551.38,937.2 554.73,937.2 558.15,971.4 561.65,971.4 565.2,906.5 568.8,906.5 572.33,971.4 575.77,971.4 579.25,971.4 582.75,971.4 586.25,906.5 589.75,906.5 593.25,960.3 596.75,960.3 600.23,959.5 603.67,959.5 607.15,946.8 610.65,946.8 614.17,946 617.73,946 621.35,915.9 625.05,915.9 628.65,904 632.15,904 635.67,958.3 639.23,958.3 642.75,943.4 646.25,943.4 649.75,918.8 653.25,918.8 656.77,963 660.33,963 663.85,949.1 667.35,949.1 670.85,967.5 674.35,967.5 677.85,971.4 681.35,971.4 684.88,971.4 686.3,971.4 686.3,971.4" fill="#ff0000"/>
</g>
<path d="M492.8 822.5v6.5M492.8 1014.5v-6.5M520.46 822.5v6.5M520.46 1014.5v-6.5M548.11 822.5v6.5M548.11 1014.5v-6.5M575.77 822.5v13M575.77 1014.5v-13M603.42 822.5v6.5M603.42 1014.5v-6.5M631.08 822.5v6.5M631.08 1014.5v-6.5M658.73 822.5v6.5M658.73 1014.5v-6.5M686.38 822.5v13M686.38 1014.5v-13M714.04 822.5v6.5M714.04 1014.5v-6.5M741.69 822.5v6.5M741.69 1014.5v-6.5M769.35 822.5v6.5M769.35 1014.5v-6.5M465.15 827.62h5M797 827.62h-5M465.15 843.6h10M797 843.6h-10M465.15 859.58h5M797 859.58h-5M465.15 875.56h5M797 875.56h-5M465.15 891.54h5M797 891.54h-5M465.15 907.52h10M797 907.52h-10M465.15 923.5h5M797 923.5h-5M465.15 939.48h5M797 939.48h-5M465.15 955.46h5M797 955.46h-5M465.15 971.44h10M797 971.44h-10M465.15 987.42h5M797 987.42h-5M465.15 1003.4h5M797 1003.4h-5" fill="none" stroke="#3a3a3a" stroke-width="0.85"/>
<text x="459.15" y="850.05" font-family="Liberation Serif, serif" font-size="19" fill="#1a1a1a" text-anchor="end">6</text>
<text x="459.15" y="913.95" font-family="Liberation Serif, serif" font-size="19" fill="#1a1a1a" text-anchor="end">3</text>
<text x="459.15" y="977.85" font-family="Liberation Serif, serif" font-size="19" fill="#1a1a1a" text-anchor="end">0</text>
<g transform="translate(433.25 961.4) rotate(-90)" font-family="Liberation Serif, serif" fill="#1a1a1a">
<text font-size="19"><tspan x="-0.2" y="0" textLength="11.2" lengthAdjust="spacingAndGlyphs">N</tspan><tspan x="11.5" y="2.9" font-size="7.5" textLength="4.7" lengthAdjust="spacingAndGlyphs" stroke="#1a1a1a" stroke-width="0.35">a</tspan><tspan x="16.4" y="0">(</tspan><tspan x="24.9" y="0">v</tspan><tspan x="35.4" y="0">)</tspan><tspan x="55.3" y="0">1</tspan><tspan x="66.5" y="0">0</tspan><tspan x="77.6" y="-7.3" font-size="8.8" stroke="#1a1a1a" stroke-width="0.3">11</tspan></text>
<line x1="43" y1="3.5" x2="54.3" y2="-14.3" stroke="#1a1a1a" stroke-width="1.1"/>
</g>
<text x="498.9" y="859.9" font-family="Liberation Serif, serif" font-size="25.3" fill="#1a1a1a" textLength="14.3" lengthAdjust="spacingAndGlyphs">C</text>
<text x="527" y="859.9" font-family="Liberation Serif, serif" font-size="25.3" fill="#1a1a1a" textLength="24.1" lengthAdjust="spacingAndGlyphs">IV</text>
<text transform="translate(562.3 859.9) scale(1.12 1)" font-family="Liberation Serif, serif" font-size="25.3" fill="#1a1a1a" textLength="116.7" lengthAdjust="spacing">λ1548.195</text>
<path d="M764.1 849.7V910.2M760.2 849.7h7.8M760.2 910.2h7.8" stroke="#ff0000" stroke-width="1.5" fill="none"/>
<circle cx="764.1" cy="879.9" r="5.05" fill="#ff0000"/>
<line x1="387.4" y1="173.5" x2="387.4" y2="197.1" stroke="#0c0cff" stroke-width="1.5"/>
<text x="359.9" y="221.8" font-family="Liberation Serif, serif" font-size="16" fill="#1a1a1a" textLength="9" lengthAdjust="spacingAndGlyphs">O</text>
<text x="376.6" y="221.8" font-family="Liberation Serif, serif" font-size="16" fill="#1a1a1a" textLength="4.8" lengthAdjust="spacingAndGlyphs">I</text>
<line x1="747.1" y1="551.6" x2="747.1" y2="576.4" stroke="#0c0cff" stroke-width="1.5"/>
<text x="753.1" y="558.9" font-family="Liberation Serif, serif" font-size="16" fill="#1a1a1a" textLength="8.6" lengthAdjust="spacingAndGlyphs">C</text>
<text x="769.4" y="558.9" font-family="Liberation Serif, serif" font-size="16" fill="#1a1a1a" textLength="9.2" lengthAdjust="spacingAndGlyphs">II</text>
<text x="780.1" y="559.4" font-family="Liberation Serif, serif" font-size="13.5" fill="#1a1a1a">*</text>
<polyline points="575.9,213.06 577.4,213 578.9,212.93 580.4,212.84 581.9,212.74 583.4,212.61 584.9,212.46 586.4,212.29 587.9,212.09 589.4,211.85 590.9,211.58 592.4,211.28 593.9,210.93 595.4,210.54 596.9,210.11 598.4,209.64 599.9,209.12 601.4,208.56 602.9,207.95 604.4,207.3 605.9,206.62 607.4,205.9 608.9,205.16 610.4,204.41 611.9,203.64 613.4,202.87 614.9,202.11 616.4,201.36 617.9,200.65 619.4,199.98 620.9,199.36 622.4,198.8 623.9,198.32 625.4,197.91 626.9,197.59 628.4,197.36 629.9,197.23 631.4,197.2 632.9,197.27 634.4,197.44 635.9,197.71 637.4,198.06 638.9,198.5 640.4,199.02 641.9,199.6 643.4,200.24 644.9,200.93 646.4,201.66 647.9,202.41 649.4,203.18 650.9,203.95 652.4,204.71 653.9,205.46 655.4,206.19 656.9,206.9 658.4,207.57 659.9,208.2 661.4,208.79 662.9,209.33 664.4,209.83 665.9,210.29 667.4,210.7 668.9,211.07 670.4,211.4 671.9,211.69 673.4,211.95 674.9,212.17 676.4,212.36 677.9,212.52 679.4,212.66 680.9,212.78 682.4,212.88 683.9,212.96" fill="none" stroke="#2414e0" stroke-width="2"/>
<path d="M620 687.9V671.8M615.3 678.8L620 671.6L624.5 678.8" fill="none" stroke="#ff2020" stroke-width="1" opacity="0.85"/>
<line x1="83.15" y1="53.5" x2="415.2" y2="53.5" stroke="#2e2e2e" stroke-width="1"/>
<line x1="83.15" y1="245.5" x2="415.2" y2="245.5" stroke="#2e2e2e" stroke-width="1"/>
<line x1="83.15" y1="438" x2="415.2" y2="438" stroke="#2e2e2e" stroke-width="1"/>
<line x1="83.15" y1="630.3" x2="415.2" y2="630.3" stroke="#2e2e2e" stroke-width="1"/>
<line x1="83.15" y1="822.5" x2="415.2" y2="822.5" stroke="#2e2e2e" stroke-width="1"/>
<line x1="83.15" y1="1014.5" x2="415.2" y2="1014.5" stroke="#2e2e2e" stroke-width="1"/>
<line x1="465.15" y1="53.5" x2="797" y2="53.5" stroke="#2e2e2e" stroke-width="1"/>
<line x1="465.15" y1="245.5" x2="797" y2="245.5" stroke="#2e2e2e" stroke-width="1"/>
<line x1="465.15" y1="438" x2="797" y2="438" stroke="#2e2e2e" stroke-width="1"/>
<line x1="465.15" y1="630.3" x2="797" y2="630.3" stroke="#2e2e2e" stroke-width="1"/>
<line x1="465.15" y1="822.5" x2="797" y2="822.5" stroke="#2e2e2e" stroke-width="1"/>
<line x1="465.15" y1="1014.5" x2="797" y2="1014.5" stroke="#2e2e2e" stroke-width="1"/>
<text x="83.15" y="1039" font-family="Liberation Serif, serif" font-size="19" fill="#1a1a1a" text-anchor="middle">0</text>
<text x="172.23" y="1039" font-family="Liberation Serif, serif" font-size="19" fill="#1a1a1a" textLength="44" lengthAdjust="spacing">+100</text>
<text x="282.92" y="1039" font-family="Liberation Serif, serif" font-size="19" fill="#1a1a1a" textLength="44" lengthAdjust="spacing">+200</text>
<text x="393.6" y="1039" font-family="Liberation Serif, serif" font-size="19" fill="#1a1a1a" textLength="44" lengthAdjust="spacing">+300</text>
<g font-family="Liberation Serif, serif" font-size="19" fill="#1a1a1a">
<text x="150.55" y="1060.6" textLength="32.2" lengthAdjust="spacingAndGlyphs">LSR</text>
<text x="190.85" y="1060.6" textLength="75.3" lengthAdjust="spacingAndGlyphs">Velocity</text>
<text x="274.65" y="1060.6" textLength="40.2" lengthAdjust="spacingAndGlyphs">(km</text>
<text x="322.65" y="1060.6">s</text>
<text x="333.05" y="1053.6" font-size="9.5" textLength="6.6" lengthAdjust="spacingAndGlyphs" stroke="#1a1a1a" stroke-width="0.3">−1</text>
<text x="342.65" y="1060.6">)</text>
</g>
<text x="465.15" y="1039" font-family="Liberation Serif, serif" font-size="19" fill="#1a1a1a" text-anchor="middle">0</text>
<text x="554.17" y="1039" font-family="Liberation Serif, serif" font-size="19" fill="#1a1a1a" textLength="44" lengthAdjust="spacing">+100</text>
<text x="664.78" y="1039" font-family="Liberation Serif, serif" font-size="19" fill="#1a1a1a" textLength="44" lengthAdjust="spacing">+200</text>
<text x="775.4" y="1039" font-family="Liberation Serif, serif" font-size="19" fill="#1a1a1a" textLength="44" lengthAdjust="spacing">+300</text>
<g font-family="Liberation Serif, serif" font-size="19" fill="#1a1a1a">
<text x="532.55" y="1060.6" textLength="32.2" lengthAdjust="spacingAndGlyphs">LSR</text>
<text x="572.85" y="1060.6" textLength="75.3" lengthAdjust="spacingAndGlyphs">Velocity</text>
<text x="656.65" y="1060.6" textLength="40.2" lengthAdjust="spacingAndGlyphs">(km</text>
<text x="704.65" y="1060.6">s</text>
<text x="715.05" y="1053.6" font-size="9.5" textLength="6.6" lengthAdjust="spacingAndGlyphs" stroke="#1a1a1a" stroke-width="0.3">−1</text>
<text x="724.65" y="1060.6">)</text>
</g>
</svg>
</body></html>
